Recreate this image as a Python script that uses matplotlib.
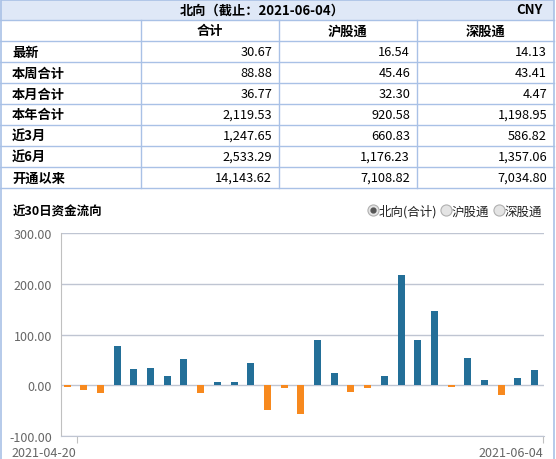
import matplotlib
matplotlib.use("Agg")
import matplotlib.pyplot as plt
from matplotlib.lines import Line2D

plt.rcParams['font.family'] = ['Noto Sans CJK SC', 'DejaVu Sans']

# 表格数据
title = "北向（截止：2021-06-04）"
unit = "CNY"
columns = ["合计", "沪股通", "深股通"]
row_labels = ["最新", "本周合计", "本月合计", "本年合计", "近3月", "近6月", "开通以来"]
total = ["30.67", "88.88", "36.77", "2,119.53", "1,247.65", "2,533.29", "14,143.62"]
sh = ["16.54", "45.46", "32.30", "920.58", "660.83", "1,176.23", "7,108.82"]
sz = ["14.13", "43.41", "4.47", "1,198.95", "586.82", "1,357.06", "7,034.80"]

# 近30日资金流向 (北向合计, 亿元)
flow = [-4, -10, -16, 78, 33, 35, 19, 51, -16, 7, 7, 45, -48, -5, -56,
        90, 25, -14, -6, 19, 218, 90, 147, -4, 53, 11, -20, 15, 30.67]
first_date = "2021-04-20"
last_date = "2021-06-04"
yticks = [-100, 0, 100, 200, 300]
radio_labels = ["北向(合计)", "沪股通", "深股通"]

W, H = 556, 460
line_c = '#a9c1e6'
head_bg = '#dfe8f7'
blue = '#236f98'
orange = '#f7891e'
gray_txt = '#666666'

fig = plt.figure(figsize=(W / 100, H / 100), dpi=100)
fig.patch.set_facecolor('white')

# 背景层：表格 + 外框 (像素坐标)
bg = fig.add_axes([0, 0, 1, 1])
bg.set_xlim(0, W)
bg.set_ylim(H, 0)
bg.axis('off')

bg.fill_between([0, 554], 0, 21, color=head_bg, lw=0)
row_h = 21
col_x = [0, 141, 279, 417, 554]
for k in range(1, 10):
    y = k * row_h
    bg.plot([0, 554], [y, y], color=line_c, lw=1)
for x in col_x[1:4]:
    bg.plot([x, x], [row_h, 9 * row_h], color=line_c, lw=1)
# 外框
bg.plot([0.5, 0.5, 554, 554], [H, 0.5, 0.5, H], color=line_c, lw=1.2)

bg.text(262, 10.5, title, ha='center', va='center', fontsize=9.5, fontweight='bold')
bg.text(543, 10.5, unit, ha='right', va='center', fontsize=9.5, fontweight='bold')
for j, c in enumerate(columns):
    bg.text((col_x[j + 1] + col_x[j + 2]) / 2, 31.5, c, ha='center', va='center',
            fontsize=9.5, fontweight='bold')
for i, lab in enumerate(row_labels):
    yc = (i + 2) * row_h + 10.5
    bg.text(12, yc, lab, ha='left', va='center', fontsize=9.5, fontweight='bold')
    for j, vals in enumerate([total, sh, sz]):
        bg.text(col_x[j + 2] - 7, yc, vals[i], ha='right', va='center', fontsize=9.2)

# 图表标题和单选按钮
bg.text(13, 212, "近30日资金流向", ha='left', va='center', fontsize=9, fontweight='bold')
radio_x = [373, 446, 499]
for k, (rx, lab) in enumerate(zip(radio_x, radio_labels)):
    bg.add_line(Line2D([rx], [211], marker='o', ms=8, mfc='#e4e4e4', mec='#b0b0b0', mew=0.8))
    if k == 0:
        bg.add_line(Line2D([rx], [211], marker='o', ms=3.5, mfc='#555555', mec='#555555'))
    bg.text(rx + 6, 212, lab, ha='left', va='center', fontsize=9, color='#222222')

# 柱状图
ax = fig.add_axes([60.5 / W, 1 - 437 / H, (544 - 60.5) / W, (437 - 234.3) / H])
ax.patch.set_alpha(0)
xs = list(range(len(flow)))
colors = [blue if v >= 0 else orange for v in flow]
ax.bar(xs, flow, width=0.42, color=colors, zorder=3)
ax.set_xlim(-0.39, 28.56)
ax.set_ylim(-100, 300)
ax.set_yticks(yticks)
ax.set_yticklabels([f"{v:.2f}" for v in yticks])
ax.tick_params(axis='y', length=0, pad=6, labelsize=9, labelcolor=gray_txt)
ax.set_xticks([0.58, 28.5])
ax.set_xticklabels([first_date, last_date])
for lbl in ax.get_xticklabels():
    lbl.set_ha('right')
ax.tick_params(axis='x', length=5, color='#c0c0c0', pad=2, labelsize=9, labelcolor=gray_txt)
ax.grid(axis='y', color='#bfc5d2', lw=1, zorder=1)
for s in ['top', 'right']:
    ax.spines[s].set_visible(False)
ax.spines['left'].set_color('#c0c0c0')
ax.spines['bottom'].set_color('#bfc5d2')

fig.savefig("out.png", dpi=100)
plt.close(fig)
